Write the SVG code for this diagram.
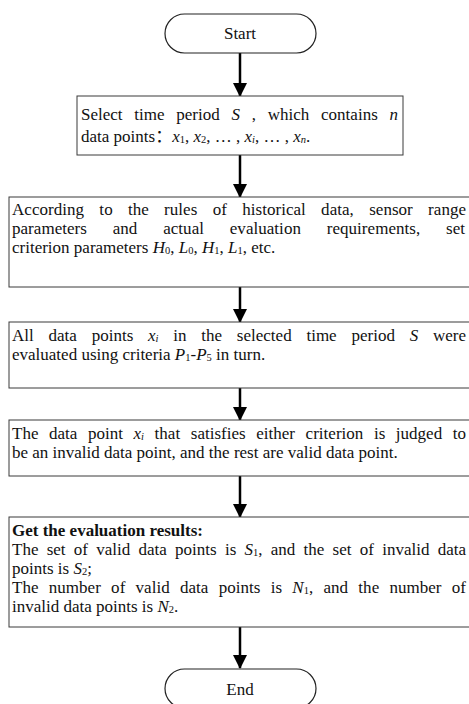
<svg xmlns="http://www.w3.org/2000/svg" width="469" height="704" viewBox="0 0 469 704">
<style>
  .bg{fill:#fff}
  .box{fill:#fff;stroke:#3a3a3a;stroke-width:1}
  .term{fill:#fff;stroke:#222;stroke-width:1.2}
  .t{font-family:"Liberation Serif","Times New Roman","Noto Sans CJK SC",serif;font-size:17px;fill:#111}
  .c{text-anchor:middle}
  .i{font-style:italic}
  .b{font-weight:bold}
  .s{font-size:10.5px;baseline-shift:-1px}
  .conn{stroke:#000;stroke-width:2.5;fill:none;marker-end:url(#ah)}
</style>
<defs>
  <marker id="ah" markerUnits="userSpaceOnUse" markerWidth="14" markerHeight="15" refX="13" refY="7" orient="auto" viewBox="0 0 14 14">
    <path d="M0,0 L14,7 L0,14 z" fill="#000"/>
  </marker>
</defs>
<rect class="bg" x="0" y="0" width="469" height="704"/>
<g id="connectors">
  <line class="conn" x1="240" y1="53" x2="240" y2="96"/>
  <line class="conn" x1="240" y1="155" x2="240" y2="197"/>
  <line class="conn" x1="240" y1="287" x2="240" y2="322"/>
  <line class="conn" x1="240" y1="388" x2="240" y2="420"/>
  <line class="conn" x1="240" y1="476" x2="240" y2="517"/>
  <line class="conn" x1="240" y1="627" x2="240" y2="668"/>
</g>
<g id="start">
  <rect class="term" x="165" y="14" width="151" height="39" rx="19.5"/>
  <text class="t c" x="240" y="39">Start</text>
</g>
<g id="step1">
  <rect class="box" x="77" y="96" width="326" height="59"/>
  <text class="t" x="81" y="120" word-spacing="7.5" textLength="317" lengthAdjust="spacing">Select time period <tspan class="i">S</tspan> , which contains <tspan class="i">n</tspan></text>
  <text class="t" x="81" y="142">data points：<tspan class="i">x</tspan><tspan class="s">1</tspan>, <tspan class="i">x</tspan><tspan class="s">2</tspan>, … , <tspan class="i">x</tspan><tspan class="s i">i</tspan>, … , <tspan class="i">x</tspan><tspan class="s i">n</tspan>.</text>
</g>
<g id="step2">
  <rect class="box" x="9" y="197" width="462" height="90"/>
  <text class="t" x="12" y="215" word-spacing="11" textLength="454" lengthAdjust="spacing">According to the rules of historical data, sensor range</text>
  <text class="t" x="12" y="234" word-spacing="21.5" textLength="453" lengthAdjust="spacing">parameters and actual evaluation requirements, set</text>
  <text class="t" x="12" y="253">criterion parameters <tspan class="i">H</tspan><tspan class="s">0</tspan>, <tspan class="i">L</tspan><tspan class="s">0</tspan>, <tspan class="i">H</tspan><tspan class="s">1</tspan>, <tspan class="i">L</tspan><tspan class="s">1</tspan>, etc.</text>
</g>
<g id="step3">
  <rect class="box" x="9" y="322" width="462" height="66"/>
  <text class="t" x="12" y="341" word-spacing="10.5" textLength="454" lengthAdjust="spacing">All data points <tspan class="i">x</tspan><tspan class="s i">i</tspan> in the selected time period <tspan class="i">S</tspan> were</text>
  <text class="t" x="12" y="360">evaluated using criteria <tspan class="i">P</tspan><tspan class="s">1</tspan>-<tspan class="i">P</tspan><tspan class="s">5</tspan> in turn.</text>
</g>
<g id="step4">
  <rect class="box" x="9" y="420" width="462" height="56"/>
  <text class="t" x="12" y="439" word-spacing="6.3" textLength="454" lengthAdjust="spacing">The data point <tspan class="i">x</tspan><tspan class="s i">i</tspan> that satisfies either criterion is judged to</text>
  <text class="t" x="12" y="458">be an invalid data point, and the rest are valid data point.</text>
</g>
<g id="step5">
  <rect class="box" x="9" y="517" width="462" height="110"/>
  <text class="t b" x="12" y="536">Get the evaluation results:</text>
  <text class="t" x="12" y="555" word-spacing="4" textLength="454" lengthAdjust="spacing">The set of valid data points is <tspan class="i">S</tspan><tspan class="s">1</tspan>, and the set of invalid data</text>
  <text class="t" x="12" y="574">points is <tspan class="i">S</tspan><tspan class="s">2</tspan>;</text>
  <text class="t" x="12" y="593" word-spacing="6" textLength="454" lengthAdjust="spacing">The number of valid data points is <tspan class="i">N</tspan><tspan class="s">1</tspan>, and the number of</text>
  <text class="t" x="12" y="612">invalid data points is <tspan class="i">N</tspan><tspan class="s">2</tspan>.</text>
</g>
<g id="end">
  <rect class="term" x="165" y="669" width="151" height="39" rx="19.5"/>
  <text class="t c" x="240" y="695">End</text>
</g>
</svg>
